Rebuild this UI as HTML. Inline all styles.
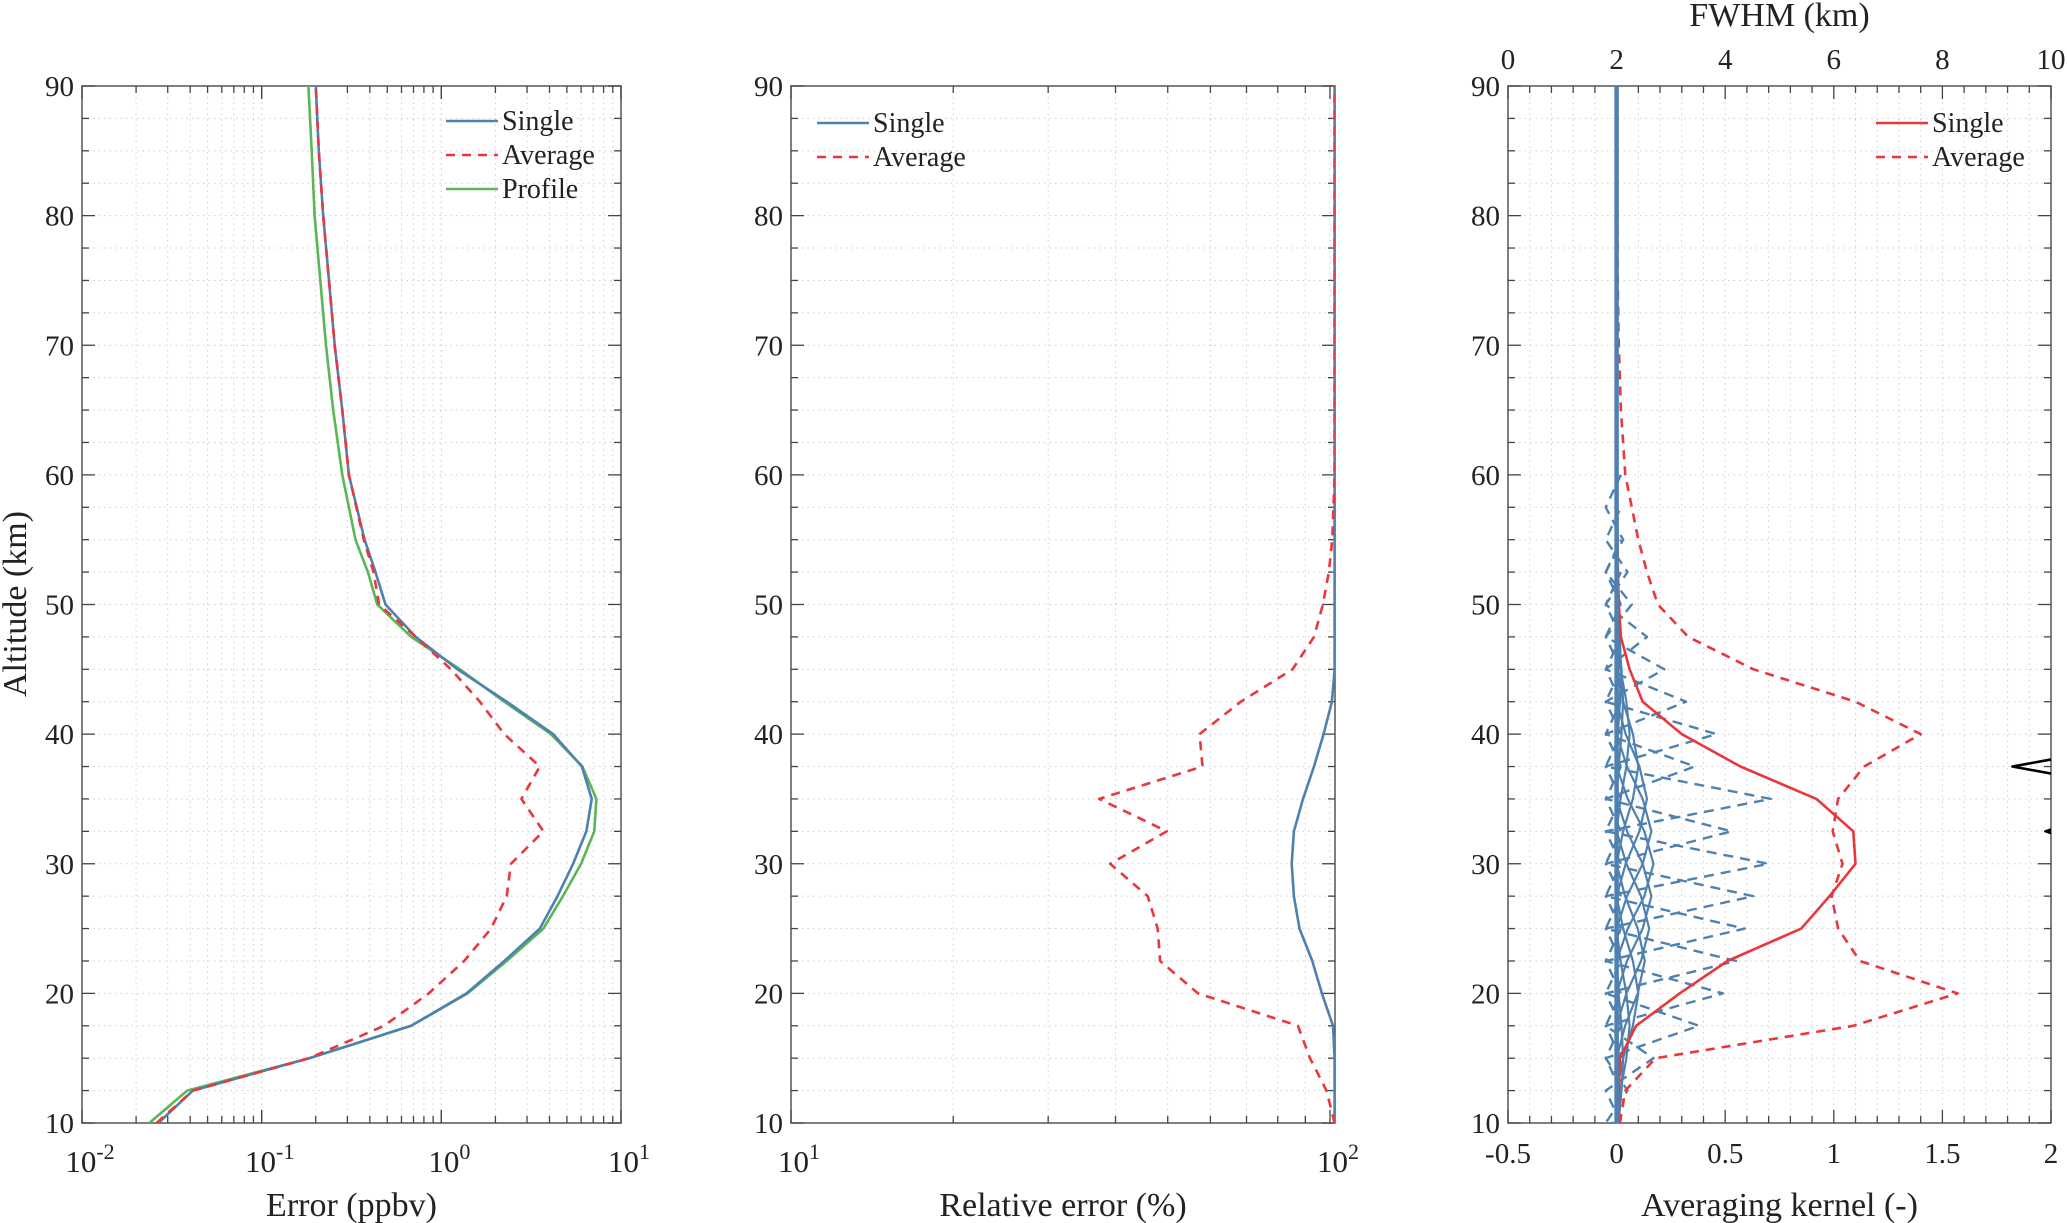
<!DOCTYPE html>
<html><head><meta charset="utf-8"><style>
html,body{margin:0;padding:0;background:#fff;}
svg{display:block;font-family:"Liberation Serif","Times New Roman",serif;}
</style></head><body>
<svg id="fig" width="2067" height="1223" viewBox="0 0 2067 1223" xmlns="http://www.w3.org/2000/svg"></svg>
<script>
// ---------- data ----------
const altLevels = [10,12.5,15,17.5,20,22.5,25,27.5,30,32.5,35,37.5,40,42.5,45,47.5,50,52.5,55,60,65,70,75,80,85,90];
// Panel 1: absolute error (ppbv)
const errSingle  = [0.0266,0.0414,0.184,0.68,1.38,2.24,3.53,4.43,5.41,6.42,6.87,6.06,4.19,2.31,1.23,0.72,0.489,0.43,0.374,0.306,0.281,0.255,0.237,0.220,0.208,0.2];
const errAverage = [0.026,0.0414,0.184,0.48,0.85,1.34,1.89,2.31,2.44,3.7,2.79,3.53,2.24,1.64,1.13,0.72,0.45,0.42,0.37,0.306,0.281,0.255,0.237,0.220,0.208,0.2];
const errProfile = [0.0237,0.0385,0.184,0.68,1.4,2.31,3.7,4.75,6.0,7.1,7.3,6.1,4.07,2.24,1.27,0.68,0.44,0.39,0.333,0.281,0.25,0.228,0.212,0.197,0.19,0.182];
// Panel 2: relative error (%)
const relSingle  = [102,102,102,101.3,96.6,92.7,87.8,85.7,84.9,85.7,89.1,93.4,97.3,100.8,102,102,102,102,102,102,102,102,102,102,102,102];
const relAverage = [102,98.5,91.8,87.2,56.9,48.4,47.9,45.9,39.1,49.8,37.3,58,57.3,68.3,85.2,93.4,97,99.5,101,102,102,102,102,102,102,102];
// Panel 3: averaging kernel response
const akSingle  = [0,0.01,0.015,0.09,0.29,0.51,0.85,0.98,1.1,1.09,0.92,0.57,0.3,0.12,0.06,0.02,0.01,0.005,0.004,0.002,0,0,0,0,0,0];
const akAverage = [0.015,0.04,0.18,1.09,1.57,1.12,1.02,0.99,1.04,0.995,1.02,1.14,1.4,1.1,0.63,0.33,0.19,0.14,0.1,0.04,0.02,0.01,0.005,0.004,0.003,0.003];
// kernel rows: center altitude, peak of single kernel, peak of averaged kernel
const kernelCenters = [12.5,15,17.5,20,22.5,25,27.5,30,32.5,35,37.5,40,42.5,45,47.5,50,52.5,55];
const kernelSinglePeak = [0.01,0.03,0.06,0.1,0.13,0.15,0.16,0.17,0.16,0.14,0.1,0.06,0.03,0.02,0.01,0.01,0.005,0.004];
const kernelAvgPeak = [0.05,0.17,0.38,0.49,0.55,0.59,0.63,0.70,0.53,0.71,0.36,0.46,0.32,0.22,0.14,0.07,0.05,0.03];
// FWHM (km)
const fwhmAlt = [10,30,31.5,32.5,33.5,35,36.5,37.5,38.5,40,90];
const fwhmBlack = [null,null,10.6,9.9,10.6,12,10.6,9.29,10.6,null,null];
const fwhmBase = [2,2];
const fwhmBaseAlt = [10,90];
const yTicks = [10,20,30,40,50,60,70,80,90];
const akTicks = [-0.5,0,0.5,1,1.5,2];
const akTickLabels = ["-0.5","0","0.5","1","1.5","2"];
const fwhmTicks = [0,2,4,6,8,10];

// ---------- helpers ----------
const NS="http://www.w3.org/2000/svg";
const svg=document.getElementById('fig');
function mk(tag,attrs,parent){const e=document.createElementNS(NS,tag);for(const k in attrs)e.setAttribute(k,attrs[k]);(parent||svg).appendChild(e);return e;}
const TOP=86,BOT=1123;
const yS=a=>BOT-(a-10)/80*(BOT-TOP);
const BLUE="#4f81b0",RED="#e8383d",GREEN="#5ab656";

function frame(L,R,name){
  const g=mk('g',{});
  
  
  return g;
}
function yGridAndAxis(g,L,R){
  for(let a=10;a<=90;a+=2.5){
    const y=yS(a);const major=(a%10===0);
    if(a>10&&a<90){const ln=mk('line',{x1:L,x2:R,y1:y,y2:y,stroke:'#cfcfcf','stroke-width':1,'stroke-dasharray':'1.5,4'},g);
      }
    const len=major?13:7;
    mk('line',{x1:L,x2:L+len,y1:y,y2:y,stroke:'#444','stroke-width':1.3},g);
    mk('line',{x1:R,x2:R-len,y1:y,y2:y,stroke:'#444','stroke-width':1.3},g);
  }
  yTicks.forEach(t=>{const tx=mk('text',{x:L-8,y:yS(t)+10,'text-anchor':'end','font-size':29,fill:'#222'},g);tx.textContent=t;
    });
}
function box(g,L,R){const r=mk('rect',{x:L,y:TOP,width:R-L,height:BOT-TOP,fill:'none',stroke:'#555','stroke-width':1.5},g);
  }
function vgrid(g,x,major,L,R){
  if(x>L+1&&x<R-1){const ln=mk('line',{x1:x,x2:x,y1:TOP,y2:BOT,stroke:'#cfcfcf','stroke-width':1,'stroke-dasharray':'1.5,4'},g);
    }
  const len=major?13:7;
  mk('line',{x1:x,x2:x,y1:BOT,y2:BOT-len,stroke:'#444','stroke-width':1.3},g);
  mk('line',{x1:x,x2:x,y1:TOP,y2:TOP+len,stroke:'#444','stroke-width':1.3},g);
}
function poly(g,xs,ys,xf,color,dash,w,name){
  let d='';let pen=false;
  for(let i=0;i<xs.length;i++){if(xs[i]===null){pen=false;continue;}
    d+=(pen?'L':'M')+xf(xs[i]).toFixed(1)+','+yS(ys[i]).toFixed(1);pen=true;}
  const p=mk('path',{d:d,fill:'none',stroke:color,'stroke-width':w||2.6,'stroke-dasharray':dash||'none','stroke-linejoin':'round'},g);
  return p;
}
function pow10Label(g,x,y,exp,name){
  const t=mk('text',{x:x,y:y,'text-anchor':'middle','font-size':31,fill:'#222'},g);
  
  const a=mk('tspan',{},t);a.textContent='10';
  const b=mk('tspan',{dy:-13,'font-size':22},t);b.textContent=exp;
}
function legend(g,x,y0,items){
  items.forEach((it,i)=>{const y=y0+i*34;
    const l=mk('line',{x1:x,x2:x+52,y1:y,y2:y,stroke:it.c,'stroke-width':2.6,'stroke-dasharray':it.d||'none'},g);
    
    const t=mk('text',{x:x+56,y:y+9,'font-size':28,fill:'#222'},g);t.textContent=it.t;
    });
}
function title(g,x,y,txt,name,rot){const t=mk('text',{x:x,y:y,'text-anchor':'middle','font-size':34,fill:'#222'},g);
  if(rot)t.setAttribute('transform','rotate(-90 '+x+' '+y+')');t.textContent=txt;
  }

// ---------- Panel 1 ----------
(function(){
  const L=82,R=621;const g=frame(L,R,'panel-absolute-error');
  const xf=v=>L+(Math.log10(v)+2)/3*(R-L);
  box(g,L,R);
  for(let e=-2;e<1;e++)for(let m=1;m<=10;m++){const v=m*Math.pow(10,e);vgrid(g,xf(v),m===1||m===10,L,R);}
  yGridAndAxis(g,L,R);
  const cp=mk('clipPath',{id:'c1'},svg);mk('rect',{x:L,y:TOP,width:R-L,height:BOT-TOP},cp);
  const gg=mk('g',{'clip-path':'url(#c1)'},g);
  poly(gg,errProfile,altLevels,xf,GREEN,null,2.6,'profile-line');
  poly(gg,errSingle,altLevels,xf,BLUE,null,2.6,'single-line');
  poly(gg,errAverage,altLevels,xf,RED,'9,7',2.6,'average-line');
  [-2,-1,0,1].forEach(e=>pow10Label(g,xf(Math.pow(10,e))+8,1172,e,'x-tick-label'));
  title(g,(L+R)/2,1216,'Error (ppbv)','x-axis-title');
  title(g,26,604,'Altitude (km)','y-axis-title',true);
  legend(g,446,121,[{t:'Single',c:BLUE},{t:'Average',c:RED,d:'9,7'},{t:'Profile',c:GREEN}]);
})();

// ---------- Panel 2 ----------
(function(){
  const L=791,R=1335;const g=frame(L,R,'panel-relative-error');
  const xf=v=>L+(Math.log10(v)-1)*539;
  box(g,L,R);
  for(let m=1;m<=10;m++)vgrid(g,xf(m*10),m===1||m===10,L,R);
  yGridAndAxis(g,L,R);
  const cp=mk('clipPath',{id:'c2'},svg);mk('rect',{x:L,y:TOP,width:R-L,height:BOT-TOP},cp);
  const gg=mk('g',{'clip-path':'url(#c2)'},g);
  poly(gg,relSingle,altLevels,xf,BLUE,null,2.6,'single-line');
  poly(gg,relAverage,altLevels,xf,RED,'9,7',2.6,'average-line');
  pow10Label(g,xf(10)+8,1172,1,'x-tick-label');
  pow10Label(g,xf(100)+8,1172,2,'x-tick-label');
  title(g,(L+R)/2,1216,'Relative error (%)','x-axis-title');
  legend(g,817,123,[{t:'Single',c:BLUE},{t:'Average',c:RED,d:'9,7'}]);
})();

// ---------- Panel 3 ----------
(function(){
  const L=1508,R=2051;const g=frame(L,R,'panel-averaging-kernel');
  const xf=v=>L+(v+0.5)/2.5*(R-L);
  const ff=v=>L+v/10*(R-L);
  box(g,L,R);
  for(let v=-0.5;v<=2.001;v+=0.1){const maj=Math.abs(v*2-Math.round(v*2))<1e-6;
    vgrid(g,xf(v),maj,L,R);}
  yGridAndAxis(g,L,R);
  const cp=mk('clipPath',{id:'c3'},svg);mk('rect',{x:L,y:TOP,width:R-L,height:BOT-TOP},cp);
  const gg=mk('g',{'clip-path':'url(#c3)'},g);
  // kernel rows
  const shapeS=[0,0.3,0.75,1,0.75,0.3,0];
  const offS=[-7.5,-5,-2.5,0,2.5,5,7.5];
  kernelCenters.forEach((c,i)=>{
    const ks=shapeS.map(s=>s*kernelSinglePeak[i]);
    const as=offS.map(o=>Math.max(10,Math.min(90,c+o)));
    const ka=[0.02,-0.05,kernelAvgPeak[i],-0.05,0.02];
    const aa=[c-5,c-2.5,c,c+2.5,c+5].map(a=>Math.max(10,Math.min(90,a)));
    poly(gg,ka,aa,xf,BLUE,'10,7',2.4,'kernel-average-row');
    poly(gg,ks,as,xf,BLUE,null,2.2,'kernel-single-row');
  });
  poly(gg,fwhmBlack,fwhmAlt,ff,'#000',null,2.6,'fwhm-average-line');
  poly(gg,akSingle,altLevels,xf,RED,null,2.6,'ak-single-line');
  poly(gg,akAverage,altLevels,xf,RED,'9,7',2.6,'ak-average-line');
  poly(gg,fwhmBase,fwhmBaseAlt,ff,BLUE,null,4.5,'fwhm-single-line');
  akTicks.forEach((t,i)=>{const tx=mk('text',{x:xf(t),y:1163,'text-anchor':'middle','font-size':29,fill:'#222'},g);tx.textContent=akTickLabels[i];
    });
  fwhmTicks.forEach(t=>{const tx=mk('text',{x:ff(t),y:69,'text-anchor':'middle','font-size':29,fill:'#222'},g);tx.textContent=t;
    });
  title(g,(L+R)/2,1216,'Averaging kernel (-)','x-axis-title');
  title(g,(L+R)/2,26,'FWHM (km)','top-x-axis-title');
  legend(g,1876,123,[{t:'Single',c:RED},{t:'Average',c:RED,d:'9,7'}]);
})();
</script>
</body></html>
